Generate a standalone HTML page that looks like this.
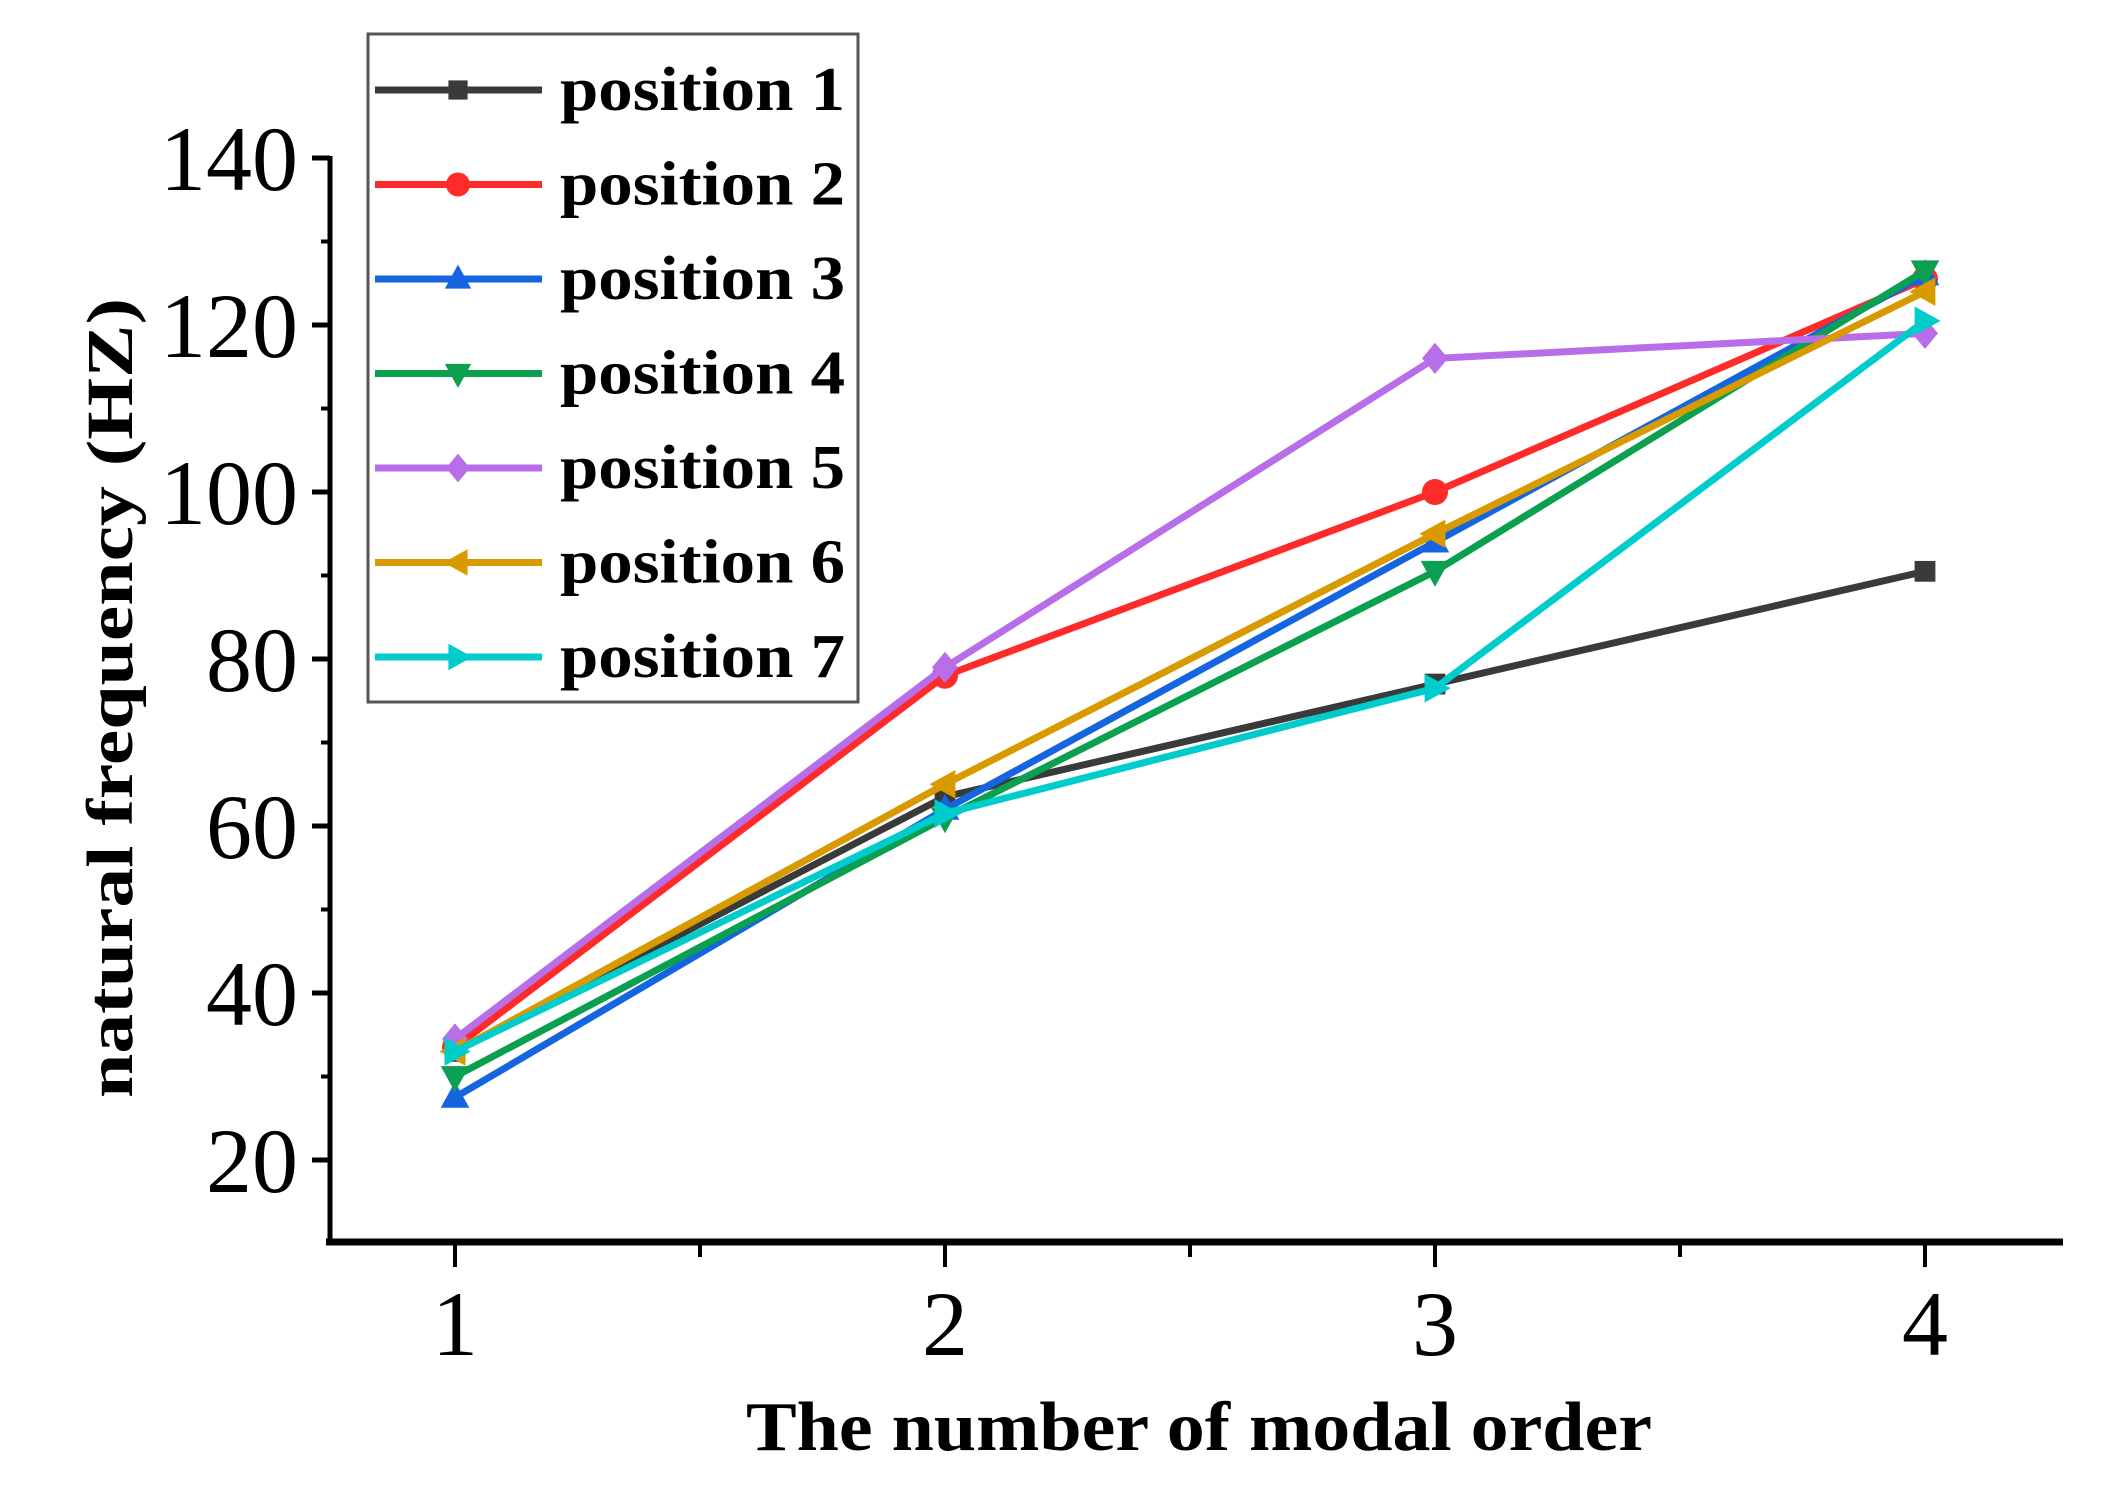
<!DOCTYPE html>
<html><head><meta charset="utf-8"><style>
html,body{margin:0;padding:0;background:#fff;}
svg{display:block;}
text{font-family:"Liberation Serif",serif;}
</style></head><body>
<svg id="chart" width="2101" height="1506" viewBox="0 0 2101 1506" xmlns="http://www.w3.org/2000/svg">
<g id="axes"></g>
<g id="series"></g>
<g id="legend"></g>
<text transform="translate(132,698) rotate(-90)" text-anchor="middle" font-size="66" font-weight="bold" textLength="800" lengthAdjust="spacingAndGlyphs">natural frequency (HZ)</text>
<text x="1199" y="1450" text-anchor="middle" font-size="70" font-weight="bold" textLength="906" lengthAdjust="spacingAndGlyphs">The number of modal order</text>
</svg>
<script>
const categories=[1,2,3,4];
const yTicks=[20,40,60,80,100,120,140];
const seriesNames=["position 1","position 2","position 3","position 4","position 5","position 6","position 7"];
const p1=[33,63.5,77,90.5];
const p2=[33.5,78,100,125.5];
const p3=[27.5,62,94,126];
const p4=[30,61,90.5,126.5];
const p5=[34.5,79,116,119];
const p6=[33,65,95,124];
const p7=[33,61.5,76.5,120.5];
const seriesValues=[p1,p2,p3,p4,p5,p6,p7];
const colors=["#3a3a3a","#ff2a2a","#1565e0","#0aa050","#b86ee8","#d99a00","#00cccc"];
const markers=["square","circle","up","down","diamond","left","right"];

const NS="http://www.w3.org/2000/svg";
function xs(v){return 455+(v-1)*490;}
function ys(v){return 1160-(v-20)*(1002/120);}
function mk(tag,attrs,parent){const e=document.createElementNS(NS,tag);for(const k in attrs)e.setAttribute(k,attrs[k]);parent.appendChild(e);return e;}
const axes=document.getElementById('axes');
let yl=mk('line',{x1:330,y1:ys(140)-2,x2:330,y2:1245,stroke:'#000','stroke-width':5},axes);


let xl=mk('line',{x1:326,y1:1242,x2:2063,y2:1242,stroke:'#000','stroke-width':7},axes);


yTicks.forEach(v=>{
  const t=mk('line',{x1:312,y1:ys(v),x2:330,y2:ys(v),stroke:'#000','stroke-width':5},axes);
  
  
  const lb=mk('text',{x:298,y:ys(v)+32,'text-anchor':'end','font-size':92},axes);
  lb.textContent=v;
  
  
  if(v<140){const m=mk('line',{x1:321,y1:ys(v+10),x2:330,y2:ys(v+10),stroke:'#000','stroke-width':4},axes);
  
  }
});
categories.forEach((c,i)=>{
  const t=mk('line',{x1:xs(c),y1:1242,x2:xs(c),y2:1267,stroke:'#000','stroke-width':4},axes);
  
  
  const lb=mk('text',{x:xs(c),y:1355,'text-anchor':'middle','font-size':92},axes);
  lb.textContent=c;
  
  
  if(i<categories.length-1){const m=mk('line',{x1:xs(c+0.5),y1:1242,x2:xs(c+0.5),y2:1257,stroke:'#000','stroke-width':4},axes);
  
  }
});
function marker(type,x,y,col,parent,s){
  let e;
  if(type==='square')e=mk('rect',{x:x-s*0.8,y:y-s*0.8,width:s*1.6,height:s*1.6,fill:col},parent);
  else if(type==='circle')e=mk('circle',{cx:x,cy:y,r:s,fill:col},parent);
  else{let pts;
    if(type==='up')pts=[[x,y-s*1.2],[x-s*1.1,y+s*0.8],[x+s*1.1,y+s*0.8]];
    else if(type==='down')pts=[[x,y+s*1.2],[x-s*1.1,y-s*0.8],[x+s*1.1,y-s*0.8]];
    else if(type==='left')pts=[[x-s*1.2,y],[x+s*0.8,y-s*1.1],[x+s*0.8,y+s*1.1]];
    else if(type==='right')pts=[[x+s*1.2,y],[x-s*0.8,y-s*1.1],[x-s*0.8,y+s*1.1]];
    else pts=[[x,y-s*1.2],[x+s,y],[x,y+s*1.2],[x-s,y]];
    e=mk('polygon',{points:pts.map(p=>p.join(',')).join(' '),fill:col},parent);}
  return e;
}
const sg=document.getElementById('series');
seriesValues.forEach((vals,si)=>{
  const g=mk('g',{},sg);
  
  
  const pl=mk('polyline',{points:vals.map((v,i)=>xs(categories[i])+','+ys(v)).join(' '),fill:'none',stroke:colors[si],'stroke-width':7},g);
  
  
  vals.forEach((v,i)=>{
    const m=marker(markers[si],xs(categories[i]),ys(v),colors[si],g,13);
    
    
  });
});
const lg=document.getElementById('legend');
const box=mk('rect',{x:368,y:34,width:490,height:668,fill:'#fff',stroke:'#555','stroke-width':3},lg);


seriesNames.forEach((n,i)=>{
  const y=90+i*94.5;
  const g=mk('g',{},lg);
  
  
  mk('line',{x1:375,y1:y,x2:542,y2:y,stroke:colors[i],'stroke-width':7},g);
  marker(markers[i],458,y,colors[i],g,12);
  const t=mk('text',{x:560,y:y+20,'font-size':62,'font-weight':'bold',textLength:285,lengthAdjust:'spacingAndGlyphs'},g);
  t.textContent=n;
});
</script>
</body></html>
